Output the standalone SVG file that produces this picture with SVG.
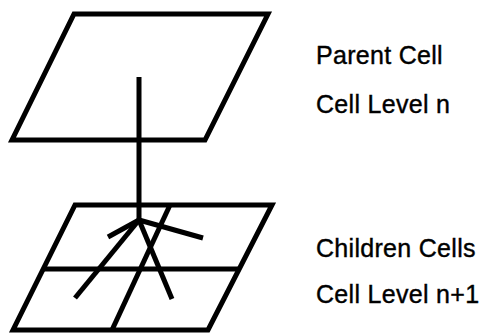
<svg xmlns="http://www.w3.org/2000/svg" width="481" height="334" viewBox="0 0 481 334">
<style>
.ln{fill:none;stroke:#000;stroke-width:5;stroke-linejoin:miter;stroke-linecap:butt}
.t{font-family:"Liberation Sans",Arial,sans-serif;font-size:25px;letter-spacing:0.3px;fill:#000;stroke:#000;stroke-width:0.4}
</style>
<rect width="481" height="334" fill="#fff"/>
<g id="parent">
<polygon class="ln" points="74,14 268,14 205,140 12,140"/>
</g>
<g id="children">
<polygon class="ln" points="75,205 272,205 208,330 13,330"/>
<line class="ln" x1="43" y1="269" x2="239" y2="269"/>
<line class="ln" x1="170" y1="205" x2="112" y2="330"/>
</g>
<g id="connectors">
<line class="ln" x1="139" y1="77" x2="139" y2="221"/>
<line class="ln" x1="139" y1="220" x2="108" y2="237"/>
<line class="ln" x1="139" y1="220" x2="75" y2="298"/>
<line class="ln" x1="139" y1="220" x2="203" y2="238"/>
<line class="ln" x1="139" y1="220" x2="172" y2="299"/>
</g>
<g id="labels">
<text class="t" x="316" y="64">Parent Cell</text>
<text class="t" x="316" y="113">Cell Level n</text>
<text class="t" x="316" y="257">Children Cells</text>
<text class="t" x="316" y="303">Cell Level n+1</text>
</g>
</svg>
